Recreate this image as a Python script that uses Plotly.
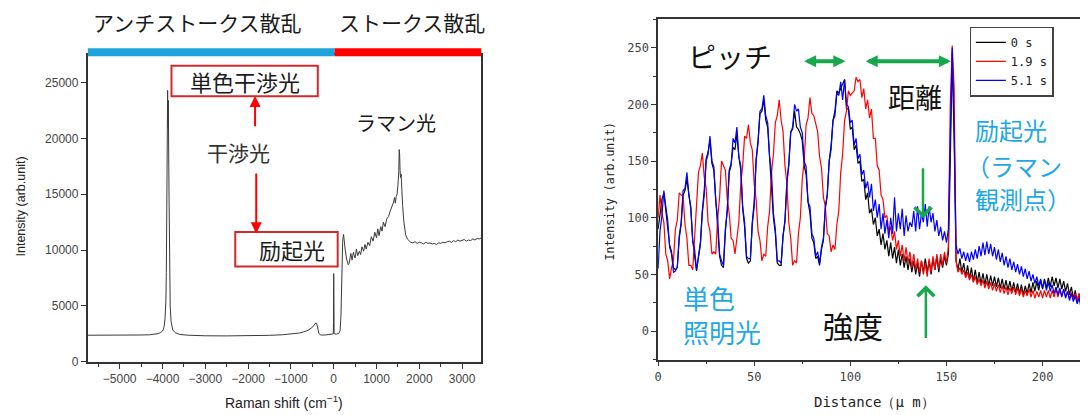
import plotly.graph_objects as go

# ---------------- Left panel: Raman spectrum ----------------
raman_shift = [-5750, -5400, -5000, -4700, -4500, -4300, -4200, -4100, -4050, -4000, -3980, -3960,
               -3940, -3920, -3910, -3900, -3890, -3880, -3875, -3870, -3865, -3860, -3850, -3840,
               -3830, -3820, -3800, -3780, -3760, -3700, -3600, -3400, -3200, -3000, -2500, -2000,
               -1500, -1200, -1000, -800, -700, -600, -500, -450, -420, -400, -380, -360, -350,
               -300, -200, -100, -30, -10, -4, 0, 4, 10, 20, 60, 120, 150, 170, 190, 210, 230,
               250, 270, 300, 340, 360, 380, 400, 430, 460, 480, 500, 530, 560, 600, 630, 660,
               700, 730, 760, 800, 840, 880, 920, 960, 1000, 1030, 1060, 1100, 1130, 1160, 1200,
               1240, 1280, 1320, 1360, 1400, 1420, 1440, 1460, 1480, 1500, 1520, 1530, 1540, 1550,
               1560, 1575, 1590, 1610, 1640, 1680, 1720, 1760, 1800, 1850, 1900, 1950, 2000, 2050,
               2100, 2150, 2200, 2250, 2300, 2350, 2400, 2450, 2500, 2550, 2600, 2650, 2700, 2750,
               2800, 2850, 2900, 2950, 3000, 3050, 3100, 3150, 3200, 3250, 3300, 3350, 3400, 3450]
raman_intensity = [2380, 2370, 2380, 2390, 2400, 2420, 2450, 2520, 2600, 2750, 2900, 3200,
                   3900, 5500, 8000, 13000, 20000, 24300, 22500, 21000, 23400, 21500, 16000, 10000,
                   7000, 5000, 3600, 3100, 2850, 2600, 2450, 2380, 2350, 2330, 2320, 2330,
                   2370, 2420, 2470, 2580, 2680, 2820, 3080, 3300, 3480, 3460, 3200, 2800, 2550,
                   2400, 2400, 2420, 2450, 2500, 3500, 7900, 3200, 2600, 2500, 2480, 2550, 2800, 4200, 8000, 10800, 11400,
                   10900, 10000, 9200, 8700, 8800, 9300, 9700, 9100, 9800, 9500, 9300, 10100, 9500, 9900, 9600, 10300,
                   9900, 10500, 10100, 10700, 10400, 11200, 10800, 11600, 11100, 11900, 11300, 12100, 11700, 12500, 12100,
                   12800, 13000, 13500, 13900, 14300, 14700, 14200, 14800, 15000, 15800, 17000, 19000, 18600, 17200,
                   16500, 16800, 15000, 14000, 12500, 11400, 11000, 10800, 10700, 10650, 10750, 10600, 10700, 10650,
                   10550, 10700, 10600, 10650, 10550, 10600, 10500, 10650, 10600, 10700, 10650, 10750, 10800, 10700,
                   10850, 10750, 10900, 10800, 10850, 10950, 10800, 10900, 10850, 11000, 10900, 11050, 11000, 11100]

# ---------------- Right panel: intensity profiles ----------------
distance_um = list(range(224))
profile_0s = [90, 104, 116, 122, 106, 96, 76, 70, 56, 54, 56, 82, 94, 120, 124, 134, 118, 108, 80, 68,
              53, 66, 78, 106, 124, 152, 158, 168, 148, 142, 114, 96, 66, 58, 56, 88, 108, 142, 148, 162,
              160, 174, 154, 142, 108, 92, 64, 60, 62, 96, 114, 152, 168, 192, 194, 204, 186, 180, 152, 134,
              100, 86, 60, 58, 58, 84, 98, 132, 148, 176, 178, 194, 180, 178, 174, 168, 146, 138, 114, 104,
              82, 78, 64, 66, 58, 72, 80, 108, 120, 150, 164, 186, 194, 212, 210, 214, 218, 222, 196, 196,
              178, 180, 160, 164, 148, 150, 132, 134, 116, 122, 104, 108, 94, 100, 84, 90, 76, 86, 72, 80,
              66, 78, 64, 74, 60, 72, 58, 68, 56, 66, 54, 64, 52, 62, 50, 60, 48, 62, 52, 64,
              52, 62, 50, 64, 54, 66, 52, 64, 56, 66, 58, 68, 150, 245, 170, 62, 54, 64, 52, 60,
              48, 58, 46, 56, 44, 54, 43, 52, 42, 51, 41, 50, 40, 49, 40, 48, 39, 47, 38, 46,
              37, 45, 36, 44, 35, 43, 34, 42, 33, 41, 32, 40, 33, 42, 34, 43, 35, 44, 36, 45,
              37, 46, 38, 47, 39, 48, 40, 47, 38, 46, 37, 44, 35, 42, 32, 39, 29, 36, 26, 33,
              23, 30, 21, 26]
profile_1_9s = [100, 120, 104, 96, 68, 62, 46, 56, 62, 90, 98, 122, 120, 119, 94, 82, 58, 58, 54, 84,
                104, 140, 146, 157, 136, 126, 96, 88, 68, 70, 68, 100, 118, 150, 146, 142, 116, 104, 82, 80,
                68, 84, 96, 130, 146, 172, 170, 182, 166, 160, 130, 116, 88, 80, 62, 68, 66, 92, 106, 140,
                156, 184, 190, 204, 186, 176, 146, 130, 96, 82, 58, 62, 60, 86, 100, 134, 150, 182, 188, 206,
                192, 190, 184, 176, 154, 144, 118, 110, 86, 84, 70, 76, 72, 94, 106, 140, 156, 186, 194, 212,
                208, 210, 212, 224, 220, 222, 206, 214, 196, 204, 188, 196, 170, 170, 146, 142, 120, 116, 100, 102,
                88, 92, 80, 88, 72, 80, 66, 76, 62, 74, 60, 70, 56, 68, 54, 64, 52, 62, 50, 60,
                48, 64, 52, 66, 54, 68, 55, 68, 58, 70, 60, 74, 200, 252, 215, 62, 52, 56, 50, 54,
                47, 52, 45, 50, 43, 48, 41, 46, 40, 45, 38, 44, 37, 43, 36, 42, 35, 41, 34, 40,
                33, 39, 32, 38, 33, 39, 32, 38, 31, 37, 30, 36, 31, 37, 30, 36, 29, 35, 30, 36,
                29, 36, 30, 36, 29, 36, 30, 37, 30, 36, 31, 37, 30, 35, 29, 34, 28, 33, 27, 33,
                26, 32, 27, 29]
profile_5_1s = [55, 88, 102, 124, 110, 98, 74, 68, 52, 53, 57, 84, 96, 124, 126, 140, 120, 110, 80, 72,
                54, 66, 76, 104, 120, 150, 156, 172, 150, 145, 114, 100, 68, 62, 58, 90, 106, 140, 146, 170,
                166, 180, 154, 146, 110, 96, 66, 64, 64, 94, 110, 150, 166, 194, 196, 208, 190, 184, 154, 140,
                104, 90, 62, 62, 60, 84, 96, 130, 146, 175, 180, 200, 194, 196, 180, 175, 150, 145, 114, 110,
                86, 82, 66, 70, 60, 74, 82, 110, 120, 150, 160, 186, 190, 210, 208, 220, 204, 222, 200, 198,
                184, 186, 164, 170, 152, 156, 138, 142, 126, 132, 118, 130, 106, 116, 100, 112, 90, 104, 86, 98,
                82, 100, 86, 118, 88, 104, 90, 108, 84, 102, 88, 96, 92, 106, 88, 110, 90, 104, 96, 112,
                92, 110, 96, 104, 88, 98, 84, 92, 80, 88, 78, 90, 160, 250, 180, 76, 68, 73, 64, 70,
                62, 69, 61, 70, 63, 72, 64, 75, 66, 78, 67, 79, 68, 77, 66, 74, 63, 72, 61, 69,
                58, 66, 56, 64, 54, 61, 52, 59, 50, 57, 48, 55, 46, 53, 44, 50, 42, 48, 40, 46,
                38, 45, 36, 43, 35, 41, 33, 39, 32, 38, 30, 37, 29, 35, 27, 33, 26, 31, 24, 29,
                21, 26, 20, 23]
series_names = ["0 s", "1.9 s", "5.1 s"]
series_colors = ["#000000", "#ff0000", "#0000ff"]

# page body has an 8px margin: build the figure 8px smaller and shift coordinates
OFF = 8
W, H = 1088 - OFF, 415 - OFF
JP = "Noto Sans CJK JP"
CYAN = "#1ea8e6"
GREEN = "#16a84a"
BOXRED = "#d22a2a"

def px(x):
    return (x - OFF) / W

def py(y):
    return 1 - (y - OFF) / H

fig = go.Figure()
fig.add_trace(go.Scatter(x=raman_shift, y=raman_intensity, mode="lines",
                         line=dict(color="#3a3a3a", width=1), showlegend=False,
                         xaxis="x", yaxis="y"))
for name, col, ys in zip(series_names, series_colors, [profile_0s, profile_1_9s, profile_5_1s]):
    fig.add_trace(go.Scatter(x=distance_um, y=ys, mode="lines", name=name,
                             line=dict(color=col, width=1.2), xaxis="x2", yaxis="y2"))

axis_common = dict(showgrid=False, zeroline=False, showline=True, mirror=True,
                   linecolor="#333333", linewidth=1.5, ticks="outside", tickcolor="#333333",
                   ticklen=5, tickwidth=1.2, tickformat="d")

fig.update_layout(
    width=W, height=H, margin=dict(l=0, r=0, t=0, b=0),
    paper_bgcolor="white", plot_bgcolor="white",
    xaxis=dict(domain=[px(84), px(480)], range=[-5750, 3450], tickmode="linear", tick0=0, dtick=1000,
               tickfont=dict(family="Liberation Sans", size=12, color="#444444"),
               minor=dict(ticks="outside", dtick=500, tick0=0, ticklen=3, tickcolor="#333333"),
               anchor="y", **axis_common),
    yaxis=dict(domain=[py(368), py(56)], range=[0, 27450], tickmode="linear", tick0=0, dtick=5000,
               tickfont=dict(family="Liberation Sans", size=12, color="#444444"),
               anchor="x", **axis_common),
    xaxis2=dict(domain=[px(657.7), 1.0], range=[0, 222.6], tickmode="linear", tick0=0, dtick=50,
                tickfont=dict(family="DejaVu Sans Mono", size=12, color="#444444"),
                minor=dict(ticks="outside", dtick=25, tick0=0, ticklen=3, tickcolor="#333333"),
                anchor="y2", **axis_common),
    yaxis2=dict(domain=[py(365.7), py(19)], range=[-25.1, 275.5], tickmode="linear", tick0=0, dtick=50,
                tickfont=dict(family="DejaVu Sans Mono", size=12, color="#444444"),
                minor=dict(ticks="outside", dtick=25, tick0=0, ticklen=3, tickcolor="#333333"),
                anchor="x2", **axis_common),
    legend=dict(x=px(971), y=py(27), xanchor="left", yanchor="top",
                bgcolor="white", bordercolor="#444444", borderwidth=1.2,
                font=dict(family="DejaVu Sans Mono", size=12, color="#222222"),
                tracegroupgap=0, itemwidth=30),
)

shapes = [
    dict(type="rect", xref="x", yref="paper", x0=-5750, x1=20, y0=py(57), y1=py(49),
         fillcolor="#1ea3dc", line=dict(width=0)),
    dict(type="rect", xref="x", yref="paper", x0=20, x1=3450, y0=py(57), y1=py(49),
         fillcolor="#ff0000", line=dict(width=0)),
    dict(type="rect", xref="x", yref="y", x0=-3790, x1=-372, y0=23770, y1=26500,
         line=dict(color=BOXRED, width=2), fillcolor="rgba(0,0,0,0)"),
    dict(type="rect", xref="x", yref="y", x0=-2300, x1=93, y0=8540, y1=11620,
         line=dict(color=BOXRED, width=2), fillcolor="rgba(0,0,0,0)"),
]
fig.update_layout(shapes=shapes)

ann = []
def text(x, y, s, size, color="#1a1a1a", xref="paper", yref="paper", xanchor="center", align="center", family=JP):
    ann.append(dict(x=x, y=y, xref=xref, yref=yref, text=s, showarrow=False,
                    font=dict(family=family, size=size, color=color),
                    xanchor=xanchor, yanchor="middle", align=align, borderpad=0))

text(px(195), py(22), "アンチストークス散乱", 21)
text(px(410), py(22), "ストークス散乱", 21)
text(-2080, 25150, "単色干渉光", 22, xref="x", yref="y")
text(-2221, 18750, "干渉光", 21, color="#333333", xref="x", yref="y")
text(-977, 10100, "励起光", 22, xref="x", yref="y")
text(1465, 21390, "ラマン光", 20, xref="x", yref="y")
text(px(282), py(408.5), "Raman shift (cm<sup>−1</sup>)", 14, color="#222222", family="Liberation Sans")
ann.append(dict(x=px(17), y=py(210), xref="paper", yref="paper", text="Intensity (arb.unit)",
                showarrow=False, textangle=-90, xanchor="center", yanchor="middle",
                font=dict(family="Liberation Sans", size=12.5, color="#222222")))
text(px(875), py(408.5), "Distance（μ m）", 14, color="#222222", family="DejaVu Sans Mono")
ann.append(dict(x=px(609), y=py(195), xref="paper", yref="paper", text="Intensity (arb.unit)",
                showarrow=False, textangle=-90, xanchor="center", yanchor="middle",
                font=dict(family="DejaVu Sans Mono", size=11.5, color="#222222")))

text(37.4, 242.6, "ピッチ", 28, color="#111111", xref="x2", yref="y2")
text(133.4, 207, "距離", 27, color="#111111", xref="x2", yref="y2")
text(101.5, 5, "強度", 30, color="#111111", xref="x2", yref="y2")
text(12.5, 30, "単色", 26, color=CYAN, xref="x2", yref="y2", xanchor="left", align="left")
text(12.5, 0, "照明光", 26, color=CYAN, xref="x2", yref="y2", xanchor="left", align="left")
text(164.5, 177.5, "励起光", 24, color=CYAN, xref="x2", yref="y2", xanchor="left", align="left")
text(159.5, 146.3, "（ラマン", 24, color=CYAN, xref="x2", yref="y2", xanchor="left", align="left")
text(164.5, 116.8, "観測点）", 24, color=CYAN, xref="x2", yref="y2", xanchor="left", align="left")

ann.append(dict(x=-1837, y=23800, ax=-1837, ay=20950, xref="x", yref="y", axref="x", ayref="y",
                showarrow=True, arrowhead=2, arrowsize=1.1, arrowwidth=2, arrowcolor="#ff0000", text=""))
ann.append(dict(x=-1810, y=11500, ax=-1810, ay=17000, xref="x", yref="y", axref="x", ayref="y",
                showarrow=True, arrowhead=2, arrowsize=1.1, arrowwidth=2, arrowcolor="#ff0000", text=""))
for xa, xb in [(75.2, 97.4), (107.2, 152.3)]:
    ann.append(dict(x=xb, y=238, ax=xa, ay=238, xref="x2", yref="y2", axref="x2", ayref="y2",
                    showarrow=True, arrowhead=2, startarrowhead=2, arrowside="end+start",
                    arrowsize=0.6, startarrowsize=0.6, arrowwidth=4, arrowcolor=GREEN, text=""))
ann.append(dict(x=137.8, y=99.5, ax=137.8, ay=145, xref="x2", yref="y2", axref="x2", ayref="y2",
                showarrow=True, arrowhead=4, arrowsize=1.3, arrowwidth=2.5, arrowcolor=GREEN, text=""))
ann.append(dict(x=139.3, y=40.5, ax=139.3, ay=-7.5, xref="x2", yref="y2", axref="x2", ayref="y2",
                showarrow=True, arrowhead=4, arrowsize=1.3, arrowwidth=2.5, arrowcolor=GREEN, text=""))

fig.update_layout(annotations=ann)
fig.write_html("out.html")
